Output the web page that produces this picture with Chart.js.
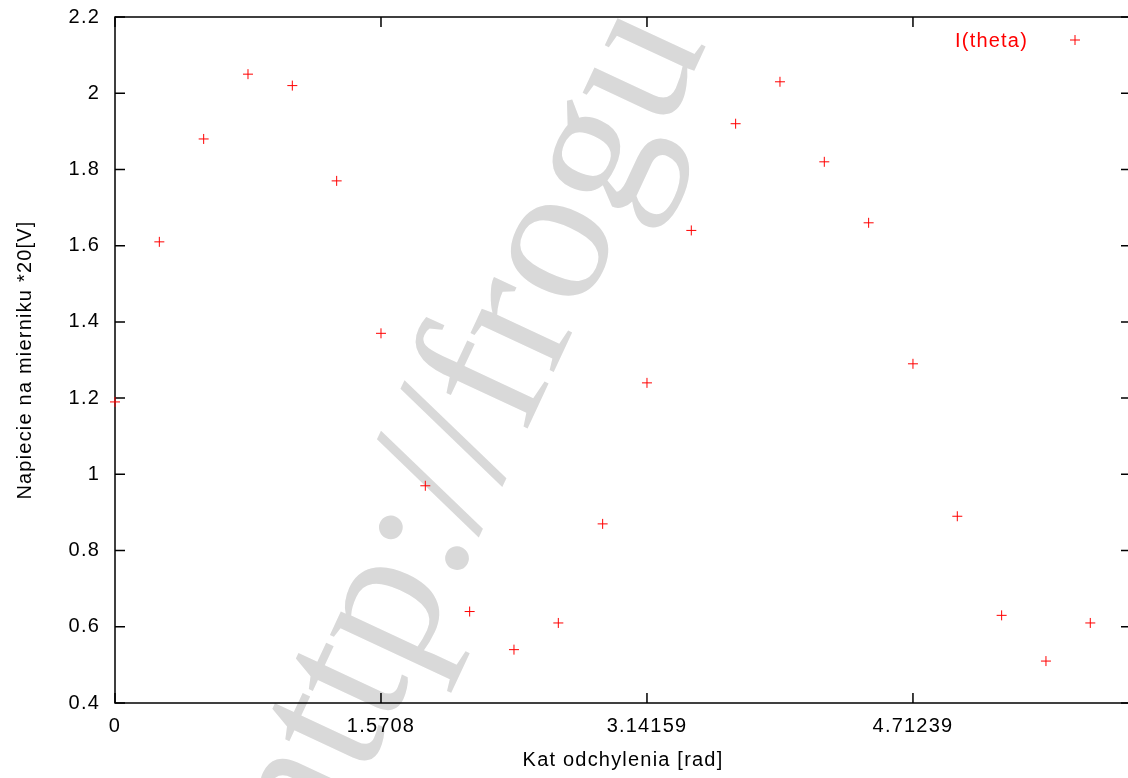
<!DOCTYPE html>
<html>
<head>
<meta charset="utf-8">
<script src="https://cdn.jsdelivr.net/npm/chart.js@4/dist/chart.umd.min.js"></script>
<style>
    html, body { margin: 0; padding: 0; background: #fff; overflow: hidden; }
    #wrap { width: 1128px; height: 778px; overflow: hidden; }
</style>
</head>
<body>
<div id="wrap"><canvas id="chart" width="1140" height="778"></canvas></div>
<script>
// Dane pomiarowe: kat (rad) i napiecie na mierniku
const angles = [0, 0.2618, 0.5236, 0.7854, 1.0472, 1.3090, 1.5708, 1.8326, 2.0944, 2.3562, 2.6180, 2.8798,
    3.1416, 3.4034, 3.6652, 3.9270, 4.1888, 4.4506, 4.7124, 4.9742, 5.2360, 5.4978, 5.7596];
const voltages = [1.19, 1.61, 1.88, 2.05, 2.02, 1.77, 1.37, 0.97, 0.64, 0.54, 0.61, 0.87,
    1.24, 1.64, 1.92, 2.03, 1.82, 1.66, 1.29, 0.89, 0.63, 0.51, 0.61];

const xTickValues = [0, 1.5708, 3.14159, 4.71239];
const xTickLabels = ['0', '1.5708', '3.14159', '4.71239'];
const yTickValues = [0.4, 0.6, 0.8, 1, 1.2, 1.4, 1.6, 1.8, 2, 2.2];
const yTickLabels = ['0.4', '0.6', '0.8', '1', '1.2', '1.4', '1.6', '1.8', '2', '2.2'];

const seriesLabel = 'I(theta)';
const xTitle = 'Kat odchylenia [rad]';
const yTitle = 'Napiecie na mierniku *20[V]';
const watermark = 'http://frogu';

const FONT = '20px "Liberation Sans", Arial, sans-serif';

// znak wodny, ramka z tickami do srodka, tytuly osi i legenda jak w gnuplocie
const gnuplotLook = {
    id: 'gnuplotLook',
    beforeDraw(chart) {
        const ctx = chart.ctx;
        ctx.save();
        ctx.letterSpacing = '0px';
        ctx.translate(322, 869);
        ctx.rotate(-65 * Math.PI / 180);
        ctx.font = '200px "Liberation Serif", "Times New Roman", serif';
        ctx.fillStyle = '#d9d9d9';
        ctx.textAlign = 'left';
        ctx.textBaseline = 'alphabetic';
        ctx.fillText(watermark, 0, 0);
        ctx.restore();
        ctx.letterSpacing = '1.2px';
    },
    beforeDatasetsDraw(chart) {
        const ctx = chart.ctx;
        const a = chart.chartArea;
        const xs = chart.scales.x;
        const ys = chart.scales.y;
        const tick = 10;
        ctx.save();
        ctx.strokeStyle = '#000';
        ctx.lineWidth = 1.5;
        ctx.beginPath();
        yTickValues.forEach(v => {
            const y = ys.getPixelForValue(v);
            ctx.moveTo(a.left, y); ctx.lineTo(a.left + tick, y);
            ctx.moveTo(a.right, y); ctx.lineTo(a.right - tick, y);
        });
        xTickValues.forEach(v => {
            const x = xs.getPixelForValue(v);
            ctx.moveTo(x, a.bottom); ctx.lineTo(x, a.bottom - tick);
            ctx.moveTo(x, a.top); ctx.lineTo(x, a.top + tick);
        });
        ctx.stroke();
        ctx.strokeRect(a.left, a.top, a.right - a.left, a.bottom - a.top);

        ctx.fillStyle = '#000';
        ctx.font = FONT;
        ctx.textAlign = 'center';
        ctx.textBaseline = 'alphabetic';
        ctx.fillText(xTitle, (a.left + a.right) / 2, 766);
        ctx.save();
        ctx.translate(31, (a.top + a.bottom) / 2);
        ctx.rotate(-Math.PI / 2);
        ctx.fillText(yTitle, 0, 0);
        ctx.restore();

        // legenda
        ctx.fillStyle = 'red';
        ctx.textAlign = 'right';
        ctx.textBaseline = 'middle';
        ctx.fillText(seriesLabel, 1028, 41);
        ctx.strokeStyle = 'red';
        ctx.lineWidth = 1;
        ctx.beginPath();
        ctx.moveTo(1070, 40); ctx.lineTo(1080, 40);
        ctx.moveTo(1075, 35); ctx.lineTo(1075, 45);
        ctx.stroke();
        ctx.restore();
    }
};

const ctx = document.getElementById('chart').getContext('2d');
const chart = new Chart(ctx, {
    type: 'scatter',
    data: {
        datasets: [{
            label: seriesLabel,
            data: angles.map((a, i) => ({ x: a, y: voltages[i] })),
            pointStyle: 'cross',
            pointRadius: 5,
            pointHoverRadius: 5,
            borderColor: 'red',
            backgroundColor: 'red',
            borderWidth: 1,
            clip: false
        }]
    },
    options: {
        responsive: false,
        animation: false,
        devicePixelRatio: 1,
        layout: { padding: { top: 17, right: 9, left: 0, bottom: 0 } },
        plugins: {
            legend: { display: false },
            tooltip: { enabled: false }
        },
        scales: {
            x: {
                type: 'linear',
                min: 0,
                max: 6,
                grid: { display: false, drawTicks: false },
                border: { display: false },
                afterBuildTicks: (scale) => {
                    scale.ticks = xTickValues.map(v => ({ value: v }));
                },
                afterFit: (scale) => {
                    scale.height = 75;
                    scale.paddingLeft = 0;
                    scale.paddingRight = 0;
                },
                ticks: {
                    color: '#000',
                    font: { family: '"Liberation Sans", Arial, sans-serif', size: 20 },
                    padding: 11,
                    maxRotation: 0,
                    autoSkip: false,
                    callback: (v, i) => xTickLabels[i]
                }
            },
            y: {
                type: 'linear',
                min: 0.4,
                max: 2.2,
                grid: { display: false, drawTicks: false },
                border: { display: false },
                afterBuildTicks: (scale) => {
                    scale.ticks = yTickValues.map(v => ({ value: v }));
                },
                afterFit: (scale) => {
                    scale.width = 115;
                    scale.paddingTop = 0;
                    scale.paddingBottom = 0;
                },
                ticks: {
                    color: '#000',
                    font: { family: '"Liberation Sans", Arial, sans-serif', size: 20 },
                    padding: 15,
                    autoSkip: false,
                    callback: (v, i) => yTickLabels[i]
                }
            }
        }
    },
    plugins: [gnuplotLook]
});
</script>
</body>
</html>
